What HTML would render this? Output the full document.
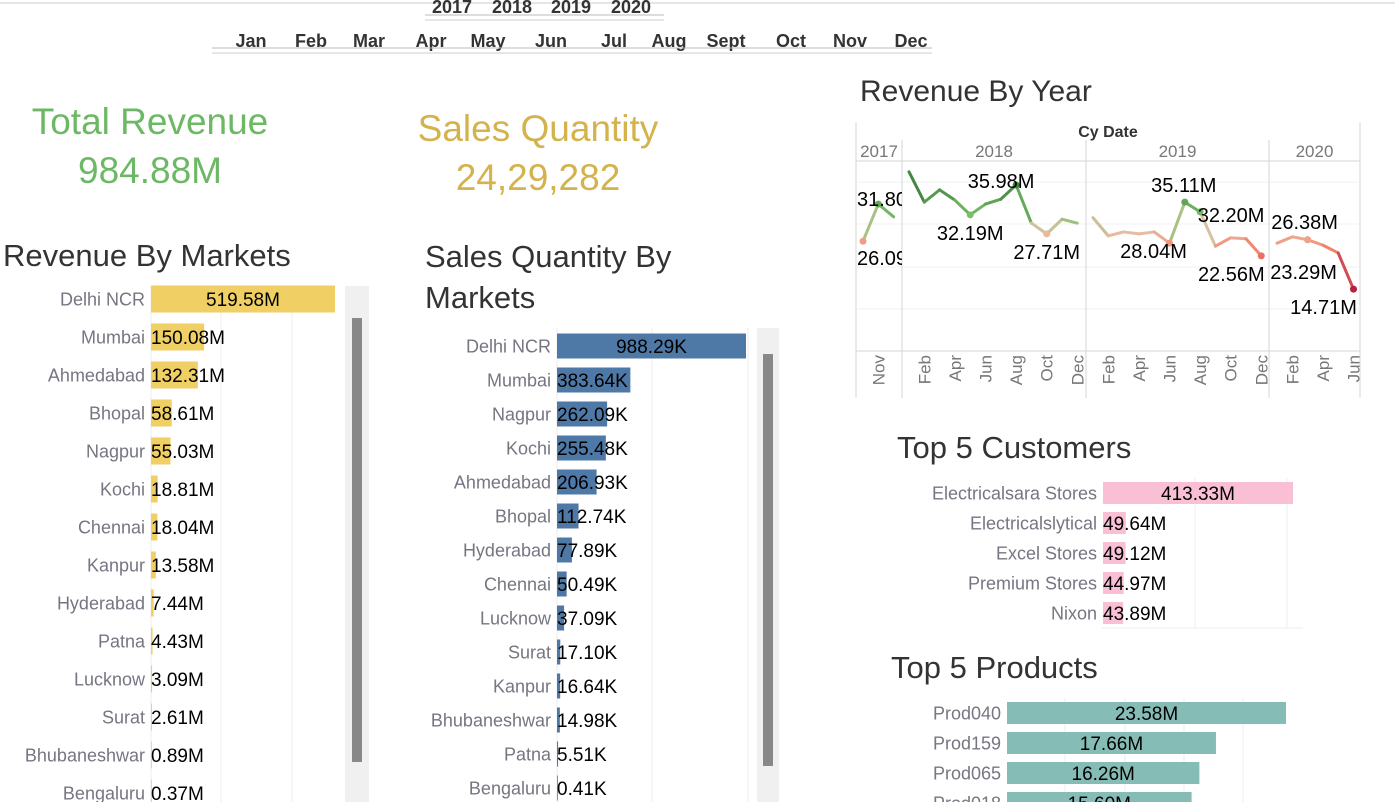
<!DOCTYPE html>
<html><head><meta charset="utf-8">
<style>
html,body{margin:0;padding:0;background:#fff;width:1395px;height:802px;overflow:hidden}
svg{display:block;font-family:"Liberation Sans","DejaVu Sans",sans-serif}
</style></head>
<body>
<svg id="root" width="1395" height="802" viewBox="0 0 1395 802" xmlns="http://www.w3.org/2000/svg">
  <defs><clipPath id="clip2017"><rect x="856" y="140" width="46" height="220"/></clipPath></defs>
  <rect x="0" y="0" width="1395" height="802" fill="#fff"/>
  <line x1="0" y1="3" x2="1395" y2="3" stroke="#e6e6e6" stroke-width="2"/>
  <g font-weight="bold" font-size="18" fill="#333">
    <text x="432" y="13">2017</text>
    <text x="492" y="13">2018</text>
    <text x="551" y="13">2019</text>
    <text x="611" y="13">2020</text>
    <line x1="425" y1="15" x2="664" y2="15" stroke="#bbb"/>
    <line x1="425" y1="20" x2="664" y2="20" stroke="#ccc"/>
  </g>
  <g id="months" font-weight="bold" font-size="18" fill="#333" text-anchor="middle"></g>
  <line x1="212" y1="48" x2="932" y2="48" stroke="#bbb"/>
  <line x1="212" y1="53" x2="932" y2="53" stroke="#ccc"/>

  <text x="150" y="134" font-size="37" fill="#6cb864" text-anchor="middle">Total Revenue</text>
  <text x="150" y="183" font-size="37" fill="#6cb864" text-anchor="middle">984.88M</text>
  <text x="538" y="141" font-size="37" fill="#d4b24c" text-anchor="middle">Sales Quantity</text>
  <text x="538" y="190" font-size="37" fill="#d4b24c" text-anchor="middle">24,29,282</text>

  <text x="3" y="266" font-size="31" fill="#333">Revenue By Markets</text>
  <text x="425" y="267" font-size="31" fill="#333">Sales Quantity By</text>
  <text x="425" y="308" font-size="31" fill="#333">Markets</text>
  <text x="860" y="101" font-size="30" fill="#333">Revenue By Year</text>
  <text x="897" y="458" font-size="31" fill="#333">Top 5 Customers</text>
  <text x="891" y="678" font-size="31" fill="#333">Top 5 Products</text>

  <rect x="345" y="286" width="24" height="516" fill="#f0f0f0"/>
  <rect x="352" y="318" width="10" height="444" fill="#888"/>
  <rect x="757" y="328" width="22" height="474" fill="#f0f0f0"/>
  <rect x="763" y="354" width="10" height="412" fill="#888"/>

  <g id="revMarkets"></g>
  <g id="qtyMarkets"></g>
  <g id="customers"></g>
  <g id="products"></g>
  <g id="yearChart"></g>
</svg>
<script>
const monthNames = ["Jan","Feb","Mar","Apr","May","Jun","Jul","Aug","Sept","Oct","Nov","Dec"];
const revMarketCats = ["Delhi NCR","Mumbai","Ahmedabad","Bhopal","Nagpur","Kochi","Chennai","Kanpur","Hyderabad","Patna","Lucknow","Surat","Bhubaneshwar","Bengaluru"];
const revMarketVals = [519.58,150.08,132.31,58.61,55.03,18.81,18.04,13.58,7.44,4.43,3.09,2.61,0.89,0.37];
const qtyMarketCats = ["Delhi NCR","Mumbai","Nagpur","Kochi","Ahmedabad","Bhopal","Hyderabad","Chennai","Lucknow","Surat","Kanpur","Bhubaneshwar","Patna","Bengaluru"];
const qtyMarketVals = [988.29,383.64,262.09,255.48,206.93,112.74,77.89,50.49,37.09,17.10,16.64,14.98,5.51,0.41];
const customerCats = ["Electricalsara Stores","Electricalslytical","Excel Stores","Premium Stores","Nixon"];
const customerVals = [413.33,49.64,49.12,44.97,43.89];
const productCats = ["Prod040","Prod159","Prod065","Prod018"];
const productVals = [23.58,17.66,16.26,15.60];
const years = ["2017","2018","2019","2020"];
const rev2017 = [24.5,32.1,29.5];
const rev2018 = [38.7,32.5,35.0,32.9,29.9,32.1,33.1,36.0,28.2,26.0,29.0,28.2];
const rev2019 = [29.3,25.6,26.4,26.0,26.4,24.1,32.5,30.5,23.5,25.2,25.0,21.5];
const rev2020 = [24.1,25.4,24.8,23.7,22.1,14.7];
const pointLabels = ["31.80M","26.09M","35.98M","32.19M","27.71M","35.11M","28.04M","32.20M","22.56M","26.38M","23.29M","14.71M"];

const NS="http://www.w3.org/2000/svg";
function mk(tag, parent, attrs, txt){
  const e=document.createElementNS(NS,tag);
  for(const k in attrs) e.setAttribute(k,attrs[k]);
  if(txt!==undefined) e.textContent=txt;
  parent.appendChild(e); return e;
}
const fmt2 = v => v.toFixed(2);

const mg=document.getElementById('months');
const monthX=[251,311,369,431,488,551,614,669,726,791,850,911];
monthNames.forEach((m,i)=>{
  const t=mk('text',mg,{x:monthX[i],y:47},m);
  
  
});

function hbar(g, cats, vals, o){
  const xs = v => o.x0 + v*o.k;
  o.grid.forEach(gx=>{ const l=mk('line',g,{x1:gx,y1:o.gy0,x2:gx,y2:o.gy1,stroke:'#ececec'});   });
  if(o.axisY){ const l=mk('line',g,{x1:o.x0-1,y1:o.axisY,x2:o.axisX2,y2:o.axisY,stroke:'#ececec'});   }
  cats.forEach((c,i)=>{
    const cy=o.y0+i*o.step;
    const lab=mk('text',g,{x:o.x0-6,y:cy+o.fs*0.36,'font-size':o.fs,fill:'#767682','text-anchor':'end'},c);
    
    
    const w=Math.max(xs(vals[i])-o.x0,0.8);
    const r=mk('rect',g,{x:o.x0,y:cy-o.h/2,width:w,height:o.h,fill:o.color});
    
    
    const txt=fmt2(vals[i])+o.suf;
    let tx, anchor;
    if(w>120){ tx=o.x0+w/2; anchor='middle'; } else { tx=o.x0; anchor='start'; }
    const vl=mk('text',g,{x:tx,y:cy+o.vfs*0.36,'font-size':o.vfs,fill:'#000','text-anchor':anchor},txt);
    
    
  });
}
hbar(document.getElementById('revMarkets'),revMarketCats,revMarketVals,{x0:151,k:184/519.58,y0:299,step:38,h:27,fs:18,vfs:19,color:'#f0cf65',suf:'M',grid:[151,221,292],gy0:286,gy1:802});
hbar(document.getElementById('qtyMarkets'),qtyMarketCats,qtyMarketVals,{x0:557,k:189/988.29,y0:346,step:34,h:25,fs:18,vfs:19,color:'#4e78a6',suf:'K',grid:[557,652,748],gy0:328,gy1:802});
hbar(document.getElementById('customers'),customerCats,customerVals,{x0:1103,k:190/413.33,y0:493,step:30,h:22,fs:18,vfs:19,color:'#f9bfd4',suf:'M',grid:[1195,1287],gy0:478,gy1:628,axisY:628,axisX2:1303});
hbar(document.getElementById('products'),productCats,productVals,{x0:1007,k:279/23.58,y0:713,step:30,h:22,fs:18,vfs:19,color:'#86bcb6',suf:'M',grid:[1065,1125,1184,1243],gy0:698,gy1:802});

(function(){
  const g=document.getElementById('yearChart');
  const L=856,R=1360,T=161,B=351;
  const ys = v => 185 + (36 - v)*4.89;
  const step=15.3;
  const segs=[
    {name:years[0],x0:856,x1:902,first:863,vals:rev2017,start:9},
    {name:years[1],x0:902,x1:1086,first:909,vals:rev2018,start:0},
    {name:years[2],x0:1086,x1:1269,first:1093,vals:rev2019,start:0},
    {name:years[3],x0:1269,x1:1360,first:1277,vals:rev2020,start:0}
  ];
  [[L,122,L,398],[R,122,R,398]].forEach(a=>{mk('line',g,{x1:a[0],y1:a[1],x2:a[2],y2:a[3],stroke:'#d4d4d4'});});
  mk('line',g,{x1:L,y1:T,x2:R,y2:T,stroke:'#d4d4d4'});
  mk('line',g,{x1:L,y1:B,x2:R,y2:B,stroke:'#d4d4d4'});
  [182,224,267,309].forEach(y=>{const l=mk('line',g,{x1:L,y1:y,x2:R,y2:y,stroke:'#f0f0f0'});  });
  const cd=mk('text',g,{x:1108,y:137,'font-size':16,'font-weight':'bold',fill:'#333','text-anchor':'middle'},'Cy Date');
  
  
  const monShort=["Jan","Feb","Mar","Apr","May","Jun","Jul","Aug","Sep","Oct","Nov","Dec"];
  function col(v){
    const stops=[[14,[178,24,61]],[23,[244,130,106]],[26.5,[232,192,168]],[29.5,[127,195,107]],[38,[46,110,52]]];
    if(v<=stops[0][0]) return 'rgb('+stops[0][1]+')';
    for(let i=1;i<stops.length;i++){ if(v<=stops[i][0]){const a=stops[i-1],b=stops[i],t=(v-a[0])/(b[0]-a[0]);return 'rgb('+a[1].map((c,j)=>Math.round(c+(b[1][j]-c)*t)).join(',')+')';}}
    return 'rgb('+stops[stops.length-1][1]+')';
  }
  const allPts=[];
  segs.forEach((s,si)=>{
    if(si>0){const l=mk('line',g,{x1:s.x0,y1:140,x2:s.x0,y2:398,stroke:'#d4d4d4'});  }
    const yt=mk('text',g,{x:(s.x0+s.x1)/2,y:157,'font-size':17,fill:'#777','text-anchor':'middle'},s.name);
    
    
    const pts=s.vals.map((v,i)=>[s.first+i*step, ys(v), v]);
    for(let i=0;i<pts.length-1;i++){
      const a=pts[i],b=pts[i+1];
      const ln=mk('line',g,{x1:a[0],y1:a[1],x2:b[0],y2:b[1],stroke:col((a[2]+b[2])/2),'stroke-width':3,'stroke-linecap':'round'});
      
      
    }
    pts.forEach(p=>allPts.push(p));
    s.vals.forEach((v,i)=>{
      const mi=s.start+i;
      const show = s.name==='2017' ? mi===10 : (mi%2===1);
      if(!show) return;
      const x=s.first+i*step;
      const t=mk('text',g,{x:0,y:0,'font-size':17,fill:'#777','text-anchor':'end',transform:'translate('+(x+6)+',355) rotate(-90)'},monShort[mi]);
      
      
    });
  });
  const labelIdx=[1,0,10,7,12,21,20,22,26,29,29,32];
  const offs=[[0,-5],[15,17],[-15,-4],[0,18],[0,18],[-1,-17],[-16,8],[31,3],[-30,18],[-3,-18],[-4,32],[-30,18]];
  labelIdx.forEach((pi,j)=>{
    const p=allPts[pi]; if(!p) return;
    const c=mk('circle',g,{cx:p[0],cy:p[1],r:3.5,fill:col(p[2])});
    
    
    const attrs = j<2
      ? {x:857,y:p[1]+offs[j][1]+7,'font-size':20,fill:'#000','text-anchor':'start','clip-path':'url(#clip2017)'}
      : {x:p[0]+offs[j][0],y:p[1]+offs[j][1]+7,'font-size':20,fill:'#000','text-anchor':'middle'};
    const t=mk('text',g,attrs,pointLabels[j]);
    
    
  });
})();
</script>
</body></html>
